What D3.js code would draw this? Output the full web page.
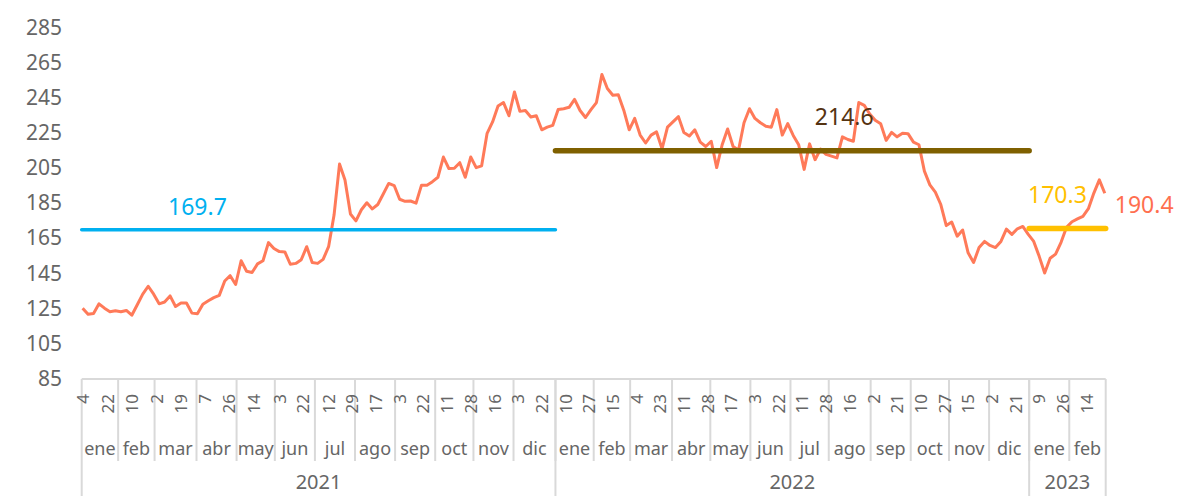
<!DOCTYPE html>
<html>
<head>
<meta charset="utf-8">
<script src="https://cdn.jsdelivr.net/npm/d3@7"></script>
<style>
  body { margin: 0; background: #fff; }
  svg { display: block; }
  text { font-family: "Noto Sans", sans-serif; }
</style>
</head>
<body>
<svg id="chart" width="1190" height="496"></svg>
<script>
// serie diaria, un valor cada 3 dias habiles desde el 4 ene 2021
var firstDay = "2021-01-04",
    lastDay = "2023-02-28",
    step = 3;

var values = [
  125,121.5,122,127.5,125,123,123.5,123,123.7,121,
  127,133,137.5,133,127.5,128.5,132,126,128,128,
  122.2,121.8,127.3,129.2,131,132.3,140.5,143.5,138.5,152,
  146,145.3,150.2,152,162.3,159,157.2,157,150,150.5,
  152.6,160,151,150.5,152.8,160,178,207,198,178.6,
  174.7,181,185,181.5,184,190,196,194.8,187,185.8,
  186,184.8,195,195,197,199.5,211,204.5,204.6,207.8,
  199.5,211,205,206,224.5,231,240,242,234.5,248,
  237,237.5,233.8,234.5,226.5,228,229,238,238.5,239.3,
  243.8,237.5,233.5,238,242,258,250,246.2,246.5,237.7,
  226.5,233,223.5,219,223.5,225.3,215.7,228,231,234,
  225,223,226.5,219.5,217,220,205,218,227,217,
  215,230.5,238.5,233,230.5,228.5,228,238,223.5,230,
  223.3,218,204,218.5,209.5,215.5,212.5,211.5,210.5,222.5,
  221,220,242,240.4,235.5,231.9,230,220.5,225,222.5,
  224.5,224.3,219.5,218,203,195.2,191,184,172,174,
  166,169.5,156.5,151,159.5,163,160.7,159.5,163,170,
  167,170.2,171.5,167,163,154.5,145,153.4,155.8,162.5,
  171,174.2,175.8,177.3,181.6,190.5,198,190.4
];

var yTicks = [85,105,125,145,165,185,205,225,245,265,285];

var dayTicks = [
  "2021-01-04","2021-01-22","2021-02-10","2021-03-02","2021-03-19","2021-04-07","2021-04-26",
  "2021-05-14","2021-06-03","2021-06-22","2021-07-12","2021-07-29","2021-08-17","2021-09-03",
  "2021-09-22","2021-10-11","2021-10-28","2021-11-16","2021-12-03","2021-12-22",
  "2022-01-10","2022-01-27","2022-02-15","2022-03-04","2022-03-23","2022-04-11","2022-04-28",
  "2022-05-17","2022-06-03","2022-06-22","2022-07-11","2022-07-28","2022-08-16","2022-09-02",
  "2022-09-21","2022-10-10","2022-10-27","2022-11-15","2022-12-02","2022-12-21",
  "2023-01-09","2023-01-26","2023-02-14"
];

var monthNames = ["ene","feb","mar","abr","may","jun","jul","ago","sep","oct","nov","dic"];

// promedio de cada año
var avgYears = [2021, 2022, 2023];
var avgValues = [169.7, 214.6, 170.3];
var avgLabelDays = ["2021-04-01", "2022-08-11", "2023-01-23"];

var lastValue = 190.4;

// ---------------------------------------------------------------
var svg = d3.select("#chart"),
    left = 81.7, right = 1105.7,
    axisY = 379,
    gray = "#d9d9d9",
    textGray = "#666666";

var parse = d3.utcParse("%Y-%m-%d"),
    fmtKey = d3.utcFormat("%Y-%m-%d");

// dias habiles (lun-vie) del eje de categorias
var days = d3.utcDay.range(parse(firstDay), d3.utcDay.offset(parse(lastDay), 1))
    .filter(function(d){ var w = d.getUTCDay(); return w != 0 && w != 6; });
var dayIndex = {};
days.forEach(function(d, i){ dayIndex[fmtKey(d)] = i; });

var x = d3.scaleLinear().domain([-0.5, days.length - 0.5]).range([left, right]),
    y = d3.scaleLinear().domain([85, 285]).range([378.5, 27]);

var points = values.map(function(v, k){ return { i: k * step, v: v }; });

// grupos de meses y años
var months = d3.groups(days.map(function(d, i){ return { d: d, i: i }; }),
    function(o){ return o.d.getUTCFullYear() * 12 + o.d.getUTCMonth(); })
  .map(function(g){
    return { first: g[1][0].i, last: g[1][g[1].length - 1].i, month: g[1][0].d.getUTCMonth(), year: g[1][0].d.getUTCFullYear() };
  });
var years = d3.groups(months, function(m){ return m.year; })
  .map(function(g){ return { year: g[0], first: g[1][0].first, last: g[1][g[1].length - 1].last }; });

// eje Y
svg.append("g").selectAll("text").data(yTicks).join("text")
    .attr("x", 62).attr("y", function(d){ return y(d); })
    .attr("dy", "0.36em")
    .attr("text-anchor", "end")
    .attr("font-size", 21)
    .attr("fill", textGray)
    .text(function(d){ return d; });

// eje X: linea base y separadores
var axis = svg.append("g");
axis.append("line")
    .attr("x1", left).attr("x2", right)
    .attr("y1", axisY).attr("y2", axisY)
    .attr("stroke", gray).attr("stroke-width", 2);

axis.selectAll("line.month").data(months.slice(1)).join("line")
    .attr("class", "month")
    .attr("x1", function(m){ return x(m.first - 0.5); })
    .attr("x2", function(m){ return x(m.first - 0.5); })
    .attr("y1", axisY).attr("y2", 461)
    .attr("stroke", gray).attr("stroke-width", 2);

var yearEdges = years.map(function(yr){ return yr.first - 0.5; }).concat([days.length - 0.5]);
axis.selectAll("line.year").data(yearEdges).join("line")
    .attr("class", "year")
    .attr("x1", function(e){ return x(e); })
    .attr("x2", function(e){ return x(e); })
    .attr("y1", axisY).attr("y2", 496)
    .attr("stroke", gray).attr("stroke-width", 2);

// dias (rotados)
axis.selectAll("text.day").data(dayTicks).join("text")
    .attr("class", "day")
    .attr("transform", function(d){ return "translate(" + x(dayIndex[d]) + ",394) rotate(-90)"; })
    .attr("dy", "0.36em")
    .attr("text-anchor", "end")
    .attr("font-size", 17)
    .attr("fill", textGray)
    .text(function(d){ return +d.slice(8); });

// meses
axis.selectAll("text.mon").data(months).join("text")
    .attr("class", "mon")
    .attr("x", function(m){ return x((m.first + m.last) / 2); })
    .attr("y", 455)
    .attr("text-anchor", "middle")
    .attr("font-size", 18)
    .attr("fill", textGray)
    .text(function(m){ return monthNames[m.month]; });

// años
axis.selectAll("text.yr").data(years).join("text")
    .attr("class", "yr")
    .attr("x", function(yr){ return x((yr.first + yr.last) / 2); })
    .attr("y", 489)
    .attr("text-anchor", "middle")
    .attr("font-size", 20)
    .attr("fill", textGray)
    .text(function(yr){ return yr.year; });

// serie
var line = d3.line()
    .x(function(p){ return x(p.i); })
    .y(function(p){ return y(p.v); });

svg.append("path")
    .datum(points)
    .attr("d", line)
    .attr("fill", "none")
    .attr("stroke", "#FF7A59")
    .attr("stroke-width", 3)
    .attr("stroke-linejoin", "round");

// lineas de promedio
var avgColors = ["#00B0F0", "#7F6000", "#FFC000"],
    avgText = ["#00B0F0", "#553311", "#FFC000"],
    avgWidth = [3.5, 5.5, 5.5],
    avgLift = [15, 26, 26];

avgYears.forEach(function(yr, k){
  var seg = years.filter(function(s){ return s.year == yr; })[0];
  svg.append("line")
      .attr("x1", x(seg.first - 0.5)).attr("x2", x(seg.last + 0.5))
      .attr("y1", y(avgValues[k])).attr("y2", y(avgValues[k]))
      .attr("stroke", avgColors[k])
      .attr("stroke-width", avgWidth[k])
      .attr("stroke-linecap", "round");
  svg.append("text")
      .attr("x", x(dayIndex[avgLabelDays[k]]))
      .attr("y", y(avgValues[k]) - avgLift[k])
      .attr("text-anchor", "middle")
      .attr("font-size", 23)
      .attr("fill", avgText[k])
      .text(d3.format(".1f")(avgValues[k]));
});

// ultimo dato
var lastP = points[points.length - 1];
svg.append("text")
    .attr("x", x(lastP.i) + 10)
    .attr("y", y(lastValue) + 20)
    .attr("font-size", 23)
    .attr("fill", "#FF6F4F")
    .text(d3.format(".1f")(lastValue));
</script>
</body>
</html>
